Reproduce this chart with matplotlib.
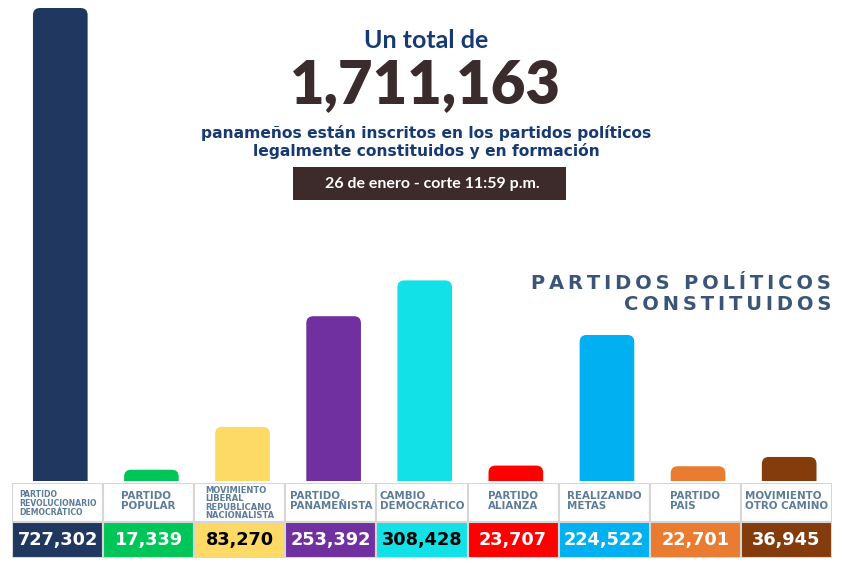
import matplotlib
matplotlib.use('Agg')
import matplotlib.pyplot as plt
from matplotlib.patches import FancyBboxPatch, Rectangle

# data
parties = ['PARTIDO\nREVOLUCIONARIO\nDEMOCRÁTICO', 'PARTIDO\nPOPULAR',
           'MOVIMIENTO\nLIBERAL\nREPUBLICANO\nNACIONALISTA', 'PARTIDO\nPANAMEÑISTA',
           'CAMBIO\nDEMOCRÁTICO', 'PARTIDO\nALIANZA', 'REALIZANDO\nMETAS',
           'PARTIDO\nPAIS', 'MOVIMIENTO\nOTRO CAMINO']
members = [727302, 17339, 83270, 253392, 308428, 23707, 224522, 22701, 36945]
colors = ['#20385f', '#00c65a', '#fdd966', '#7030a0', '#12e2e8',
          '#ff0000', '#00b0f0', '#e97c30', '#843c0c']
value_colors = ['white', 'white', 'black', 'white', 'black',
                'white', 'white', 'white', 'white']
total_text = '1,711,163'

W, H = 855, 577
fig = plt.figure(figsize=(W / 100, H / 100), dpi=100)
fig.patch.set_facecolor('white')

def fx(px):
    return px / W

def fy(py):
    return 1 - py / H

# bars axes
x0, x1 = 12, 832
base = 481
ax = fig.add_axes([fx(x0), fy(base), fx(x1) - fx(x0), 1 - fy(base)])
ax.set_xlim(-0.5, len(members) - 0.5)
ymax = max(members) * base / 473
ax.set_ylim(0, ymax)
ax.axis('off')

px_x = (x1 - x0) / len(members)
px_y = base / ymax
bw = 0.6
r = 7
for i, v in enumerate(members):
    p = FancyBboxPatch((i - bw / 2 + 0.03, -ymax * 0.05), bw, v + ymax * 0.05,
                       boxstyle='round,pad=0,rounding_size=%f' % (r / px_x),
                       mutation_aspect=px_x / px_y,
                       facecolor=colors[i], edgecolor='none')
    ax.add_patch(p)

# table axes
tab = fig.add_axes([fx(x0), fy(558), fx(x1) - fx(x0), fy(483) - fy(558)])
tab.set_xlim(-0.5, len(members) - 0.5)
tab.set_ylim(0, 75)
tab.axis('off')
# smaller print for the long names
small = {0: (5.6, 54.5), 2: (6.0, 55)}
for i, name in enumerate(parties):
    tab.add_patch(Rectangle((i - 0.5, 36), 1, 39, facecolor='white',
                            edgecolor='#d6d6d6', lw=1.5))
    tab.add_patch(Rectangle((i - 0.5, 0), 1, 36, facecolor=colors[i],
                            edgecolor='#d6d6d6', lw=1.5))
    fs, ty = small.get(i, (7.4, 57))
    tab.text(i, ty, name, ha='center', va='center', multialignment='left',
             fontsize=fs, color='#5d7c99', fontweight='bold',
             linespacing=0.95 if i in small else 0.92)
    tab.text(i, 18, f'{members[i]:,}', ha='center', va='center', fontsize=12.8,
             color=value_colors[i], fontweight='bold')

# headings
fig.text(fx(426), fy(41), 'Un total de', ha='center', va='center',
         fontsize=18, color='#173a72', fontweight='bold', family='Lato')
fig.text(fx(425), fy(86), total_text, ha='center', va='center',
         fontsize=43, color='#3a2b2c', fontweight='heavy', family='Lato')
fig.text(fx(426), fy(142), 'panameños están inscritos en los partidos políticos\n'
         'legalmente constituidos y en formación', ha='center', va='center',
         fontsize=11.2, color='#173a72', fontweight='bold', linespacing=1.1)
fig.patches.append(Rectangle((fx(293), fy(200)), fx(566) - fx(293), fy(167) - fy(200),
                             transform=fig.transFigure, facecolor='#3d2b2c',
                             edgecolor='none'))
fig.text(fx(432), fy(184), '26 de enero - corte 11:59 p.m.', ha='center',
         va='center', fontsize=11.5, color='white', fontweight='bold', family='Lato')
ts = '\u2009'
head = [ts.join(line) for line in ['PARTIDOS POLÍTICOS', 'CONSTITUIDOS']]
fig.text(fx(831), fy(294), '\n'.join(head), ha='right',
         va='center', fontsize=14, color='#3b5578', fontweight='bold',
         linespacing=1.1)

fig.savefig('out.png', dpi=100)
